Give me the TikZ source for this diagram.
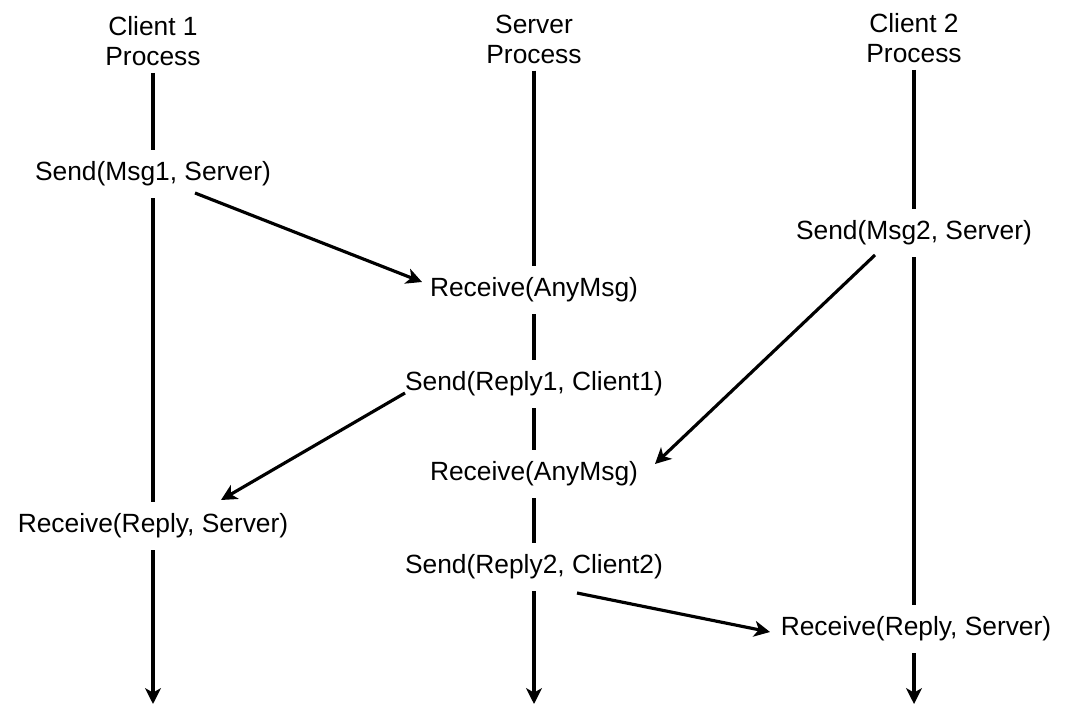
\documentclass[tikz,border=0pt]{standalone}
\usepackage{fontspec}
\setmainfont{Liberation Sans}
\usetikzlibrary{arrows.meta,calc}

\begin{document}
\begin{tikzpicture}[x=0.02cm,y=-0.02cm,
		every node/.style={font=\fontsize{15}{17}\selectfont},
		proc/.style={align=center,inner sep=4pt},
		call/.style={inner xsep=3pt,inner ysep=6.5pt},
		life/.style={line width=1.8pt},
		msg/.style={line width=1.8pt,-{Stealth[length=9pt,width=9pt,inset=2.5pt]}}]
		\useasboundingbox (0,0) rectangle (1071,705);
		% process heads
		\node[proc](c1) at (153,41) {Client 1\\Process};
		\node[proc](sv) at (534,39) {Server\\Process};
		\node[proc](c2) at (914,38) {Client 2\\Process};
		% calls
		\node[call](c1send) at (153,174) {Send(Msg1, Server)};
		\node[call](c1recv) at (153,526) {Receive(Reply, Server)};
		\node[call](sv1) at (534,290) {Receive(AnyMsg)};
		\node[call](sv2) at (534,384) {Send(Reply1, Client1)};
		\node[call](sv3) at (534,474) {Receive(AnyMsg)};
		\node[call](sv4) at (534,567) {Send(Reply2, Client2)};
		\node[call](c2send) at (914,233) {Send(Msg2, Server)};
		\node[call](c2recv) at (916,629) {Receive(Reply, Server)};
		\coordinate (c1end) at (153,704);
		\coordinate (svend) at (534,704);
		\coordinate (c2end) at (914,704);
		% lifelines
		\draw[life] (c1) -- (c1send);
		\draw[life] (c1send) -- (c1recv);
		\draw[msg] (c1recv) -- (c1end);
		\draw[life] (sv) -- (sv1);
		\draw[life] (sv1) -- (sv2);
		\draw[life] (sv2) -- (sv3);
		\draw[life] (sv3) -- (sv4);
		\draw[msg] (sv4) -- (svend);
		\draw[life] (c2) -- (c2send);
		\draw[life] (c2send) -- (c2send |- c2recv.north);
		\draw[msg] (c2send |- c2recv.south) -- (c2end);
		% messages
		\draw[msg] ($(c1send)+(42,19)$) -- ($(sv1)+(-112,-8)$);
		\draw[msg] ($(c2send)+(-39,22)$) -- ($(sv3)+(121,-10)$);
		\draw[msg] ($(sv2)+(-129,9)$) -- ($(c1recv)+(68,-26)$);
		\draw[msg] ($(sv4)+(43,26)$) -- ($(c2recv)+(-146,3)$);
\end{tikzpicture}
\end{document}
